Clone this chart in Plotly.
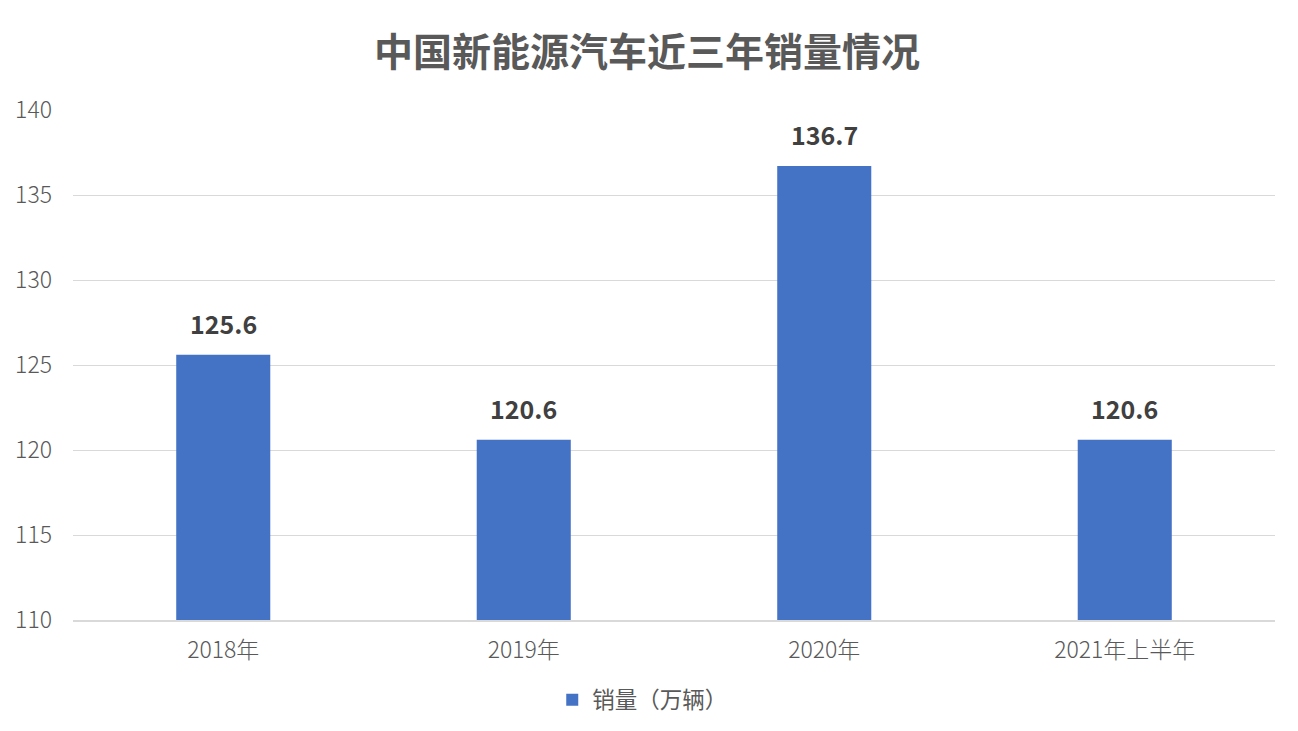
import plotly.graph_objects as go

categories = ["2018年", "2019年", "2020年", "2021年上半年"]
sales = [125.6, 120.6, 136.7, 120.6]
labels = ["125.6", "120.6", "136.7", "120.6"]
series_name = "销量（万辆）"
title_text = "中国新能源汽车近三年销量情况"

FONT = "Noto Sans CJK SC, Microsoft YaHei, sans-serif"

fig = go.Figure()
fig.add_trace(go.Bar(
    x=categories, y=sales, name=series_name,
    marker=dict(color="#4472C4", line=dict(width=0)),
))

for c, v, t in zip(categories, sales, labels):
    fig.add_annotation(x=c, y=v, text=f"<b>{t}</b>", showarrow=False,
                       yanchor="bottom", yshift=12,
                       font=dict(size=25, color="#404040", family=FONT))

fig.update_layout(
    width=1298, height=731,
    paper_bgcolor="white", plot_bgcolor="white",
    margin=dict(l=65, r=31, t=102, b=119),
    bargap=0.687,
    title=dict(text=f"<b>{title_text}</b>", x=(649 - 10) / 1298, xanchor="center",
               y=1 - 44 / 731, yanchor="middle",
               font=dict(size=39, color="#595959", family=FONT)),
    font=dict(family=FONT, color="#595959"),
    showlegend=True,
    legend=dict(orientation="h", x=0.474, xanchor="center", y=-0.157, yanchor="middle",
                font=dict(size=22.5, color="#595959", family=FONT)),
    xaxis=dict(showgrid=False, showline=True, linecolor="#d9d9d9", linewidth=1.5,
               automargin=False,
               ticks="", tickfont=dict(size=23, color="#595959", weight=300), ticklabelstandoff=9),
    yaxis=dict(range=[110, 140], dtick=5, showgrid=True, gridcolor="#d9d9d9", gridwidth=1.3,
               automargin=False,
               zeroline=False, showline=False, ticks="",
               tickfont=dict(size=23, color="#595959", weight=300), ticklabelstandoff=20),
)

fig.write_html("out.html")
